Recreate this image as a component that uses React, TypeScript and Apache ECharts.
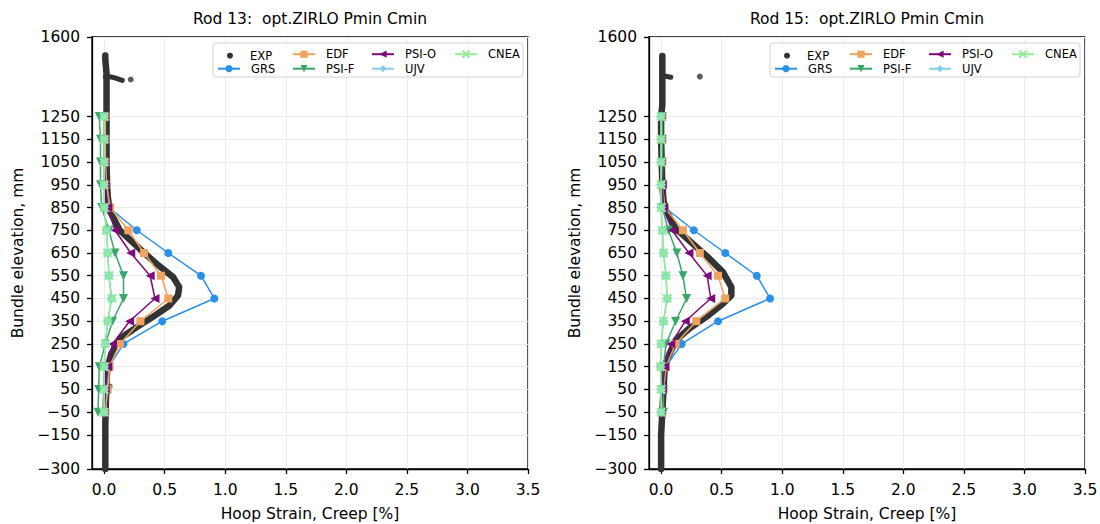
import React, { useEffect, useRef } from "react";
import * as echarts from "echarts";

// ---------- data ----------
const ELEV = [1250, 1150, 1050, 950, 850, 750, 650, 550, 450, 350, 250, 150, 50, -50];
const Y_TICKS = [-300, -150, -50, 50, 150, 250, 350, 450, 550, 650, 750, 850, 950, 1050, 1150, 1250, 1600];
const X_TICKS = [0, 0.5, 1, 1.5, 2, 2.5, 3, 3.5];
const TITLES = ["Rod 13:  opt.ZIRLO Pmin Cmin", "Rod 15:  opt.ZIRLO Pmin Cmin"];

// Rod 13
const GRS_13 = [0.01, 0.01, 0.01, 0.02, 0.04, 0.27, 0.53, 0.8, 0.91, 0.48, 0.16, 0.04, 0.02, 0.01];
const EDF_13 = [0.01, 0.01, 0.01, 0.02, 0.05, 0.2, 0.33, 0.47, 0.53, 0.3, 0.13, 0.045, 0.03, 0.01];
const PSIF_13 = [-0.04, -0.03, -0.03, -0.03, -0.02, 0.04, 0.09, 0.16, 0.16, 0.07, 0.01, -0.04, -0.045, -0.05];
const PSIO_13 = [0.0, 0.0, 0.0, 0.01, 0.03, 0.09, 0.22, 0.38, 0.42, 0.21, 0.07, 0.03, 0.01, 0.0];
const UJV_13 = [0.0, 0.0, 0.0, 0.0, 0.0, 0.02, 0.03, 0.04, 0.06, 0.03, 0.01, 0.0, 0.0, 0.0];
const CNEA_13 = [0.0, 0.0, 0.0, 0.0, 0.0, 0.02, 0.03, 0.04, 0.065, 0.03, 0.01, 0.0, 0.0, 0.0];
const EXP_13 = [
  [0.01, 1519], [0.01, 1500], [0.015, 1470], [0.02, 1440], [0.02, 1400], [0.02, 1350], [0.02, 1300],
  [0.02, 1250], [0.02, 1150], [0.02, 1050], [0.025, 950], [0.03, 900], [0.045, 837], [0.13, 749],
  [0.29, 670], [0.43, 604], [0.57, 544], [0.62, 500], [0.61, 463], [0.54, 419], [0.4, 368],
  [0.27, 324], [0.13, 274], [0.06, 208], [0.03, 150], [0.02, 100], [0.015, 0], [0.01, -100],
  [0.01, -200], [0.01, -300],
];
const EXP_13_BRANCH = [[0.01, 1425], [0.05, 1425], [0.09, 1420], [0.15, 1409]];
const EXP_13_DOTS = [[0.22, 1413], [0.045, 63]];

// Rod 15
const GRS_15 = [0.01, 0.01, 0.01, 0.01, 0.03, 0.27, 0.53, 0.79, 0.9, 0.47, 0.17, 0.04, 0.02, 0.01];
const EDF_15 = [0.01, 0.01, 0.01, 0.01, 0.03, 0.18, 0.32, 0.47, 0.53, 0.29, 0.12, 0.04, 0.02, 0.01];
const PSIF_15 = [0.01, 0.01, 0.01, 0.01, 0.01, 0.06, 0.13, 0.18, 0.21, 0.12, 0.04, 0.02, 0.02, 0.02];
const PSIO_15 = [0.0, 0.0, 0.0, 0.01, 0.02, 0.09, 0.23, 0.38, 0.41, 0.2, 0.08, 0.03, 0.01, 0.0];
const UJV_15 = [0.0, 0.0, 0.0, 0.0, 0.0, 0.01, 0.02, 0.04, 0.05, 0.02, 0.0, -0.005, 0.0, 0.0];
const CNEA_15 = [0.0, 0.0, 0.0, 0.0, 0.0, 0.01, 0.02, 0.04, 0.05, 0.02, 0.0, -0.005, 0.0, 0.0];
const EXP_15 = [
  [0.01, 1516], [0.01, 1480], [0.01, 1440], [0.01, 1400], [0.01, 1350], [0.01, 1300], [0.0, 1250],
  [0.0, 1150], [0.005, 1050], [0.01, 950], [0.02, 880], [0.04, 837], [0.12, 758], [0.26, 691],
  [0.4, 625], [0.51, 566], [0.58, 500], [0.58, 463], [0.51, 427], [0.37, 368], [0.23, 317],
  [0.12, 265], [0.07, 207], [0.03, 150], [0.02, 50], [0.01, -50], [0.0, -150], [0.0, -300],
];
const EXP_15_BRANCH = [[0.01, 1428], [0.05, 1426], [0.08, 1423]];
const EXP_15_DOTS = [[0.32, 1426]];

const PANELS = [
  { grs: GRS_13, edf: EDF_13, psif: PSIF_13, psio: PSIO_13, ujv: UJV_13, cnea: CNEA_13, exp: EXP_13, branch: EXP_13_BRANCH, dots: EXP_13_DOTS },
  { grs: GRS_15, edf: EDF_15, psif: PSIF_15, psio: PSIO_15, ujv: UJV_15, cnea: CNEA_15, exp: EXP_15, branch: EXP_15_BRANCH, dots: EXP_15_DOTS },
];

// ---------- style ----------
const FONT = "DejaVu Sans";
const C_EXP = "#333333";
const C_GRS = "#2a8fe8";
const C_EDF = "#f0a35e";
const C_PSIF = "#3aa66a";
const C_PSIO = "#7d0a7d";
const C_UJV = "#87ceeb";
const C_CNEA = "#90ee90";
const X_SYMBOL = "path://M0,0L10,10M10,0L0,10";

const GRID_LEFT = [92, 649];
const GRID_W = 436;
const GRID_TOP = 37;
const GRID_H = 432;

function fmtY(v: number) {
  return v < 0 ? "\u2212" + Math.abs(v) : String(v);
}

function App() {
  const ref = useRef<HTMLDivElement>(null);

  useEffect(() => {
    if (!ref.current) return;
    const chart = echarts.init(ref.current, undefined, { renderer: "svg" });

    const grids = GRID_LEFT.map((l) => ({
      left: l, top: GRID_TOP, width: GRID_W, height: GRID_H,
      containLabel: false, outerBoundsMode: "none",
      show: true, borderColor: "#000", borderWidth: 1.3, backgroundColor: "transparent",
    }));

    const textStyle = { color: "#000", fontSize: 15.5, fontFamily: FONT };

    const xAxes = [0, 1].map((i) => ({
      gridIndex: i, type: "value", min: -0.1, max: 3.5,
      axisLine: { show: true, onZero: false, lineStyle: { color: "#000", width: 1.3 } },
      axisTick: { show: true, length: 5, lineStyle: { color: "#000", width: 1.3 }, customValues: X_TICKS },
      axisLabel: { customValues: X_TICKS, formatter: (v: number) => v.toFixed(1), margin: 13, ...textStyle },
      splitLine: { show: true, lineStyle: { color: "#ebebeb", width: 1 } },
      name: "Hoop Strain, Creep [%]", nameLocation: "middle", nameGap: 37,
      nameTextStyle: textStyle,
    }));

    const yAxes = [0, 1].map((i) => ({
      gridIndex: i, type: "value", min: -300, max: 1600,
      axisLine: { show: true, onZero: false, lineStyle: { color: "#000", width: 1.3 } },
      axisTick: { show: true, length: 5, lineStyle: { color: "#000", width: 1.3 }, customValues: Y_TICKS },
      axisLabel: { customValues: Y_TICKS, formatter: (v: number) => fmtY(v), margin: 12, ...textStyle },
      splitLine: { show: true, lineStyle: { color: "#ebebeb", width: 1 } },
      name: "Bundle elevation, mm", nameLocation: "middle", nameGap: 66,
      nameTextStyle: textStyle,
    }));

    const series: any[] = [];
    PANELS.forEach((p, i) => {
      const ax = { xAxisIndex: i, yAxisIndex: i };
      series.push({
        type: "line", name: "EXP", ...ax, data: p.exp, symbol: "none", z: 2,
        lineStyle: { color: C_EXP, width: 6.5, cap: "round", join: "round" }, itemStyle: { color: C_EXP },
      });
      series.push({
        type: "line", name: "EXP", ...ax, data: p.branch, symbol: "none", z: 2,
        lineStyle: { color: C_EXP, width: 5, cap: "round", join: "round" }, itemStyle: { color: C_EXP },
      });
      series.push({
        type: "scatter", name: "EXP", ...ax, data: p.dots, symbol: "circle", symbolSize: 6, z: 2,
        itemStyle: { color: C_EXP },
      });
      const model = (name: string, xs: number[], color: string, symbol: string, size: number, extra: any = {}) => ({
        type: "line", name, ...ax, data: ELEV.map((e, k) => [xs[k], e]),
        symbol, symbolSize: size, showSymbol: true, z: 3,
        lineStyle: { color, width: 1.5 }, itemStyle: { color, borderWidth: 0 }, ...extra,
      });
      series.push(model("GRS", p.grs, C_GRS, "circle", 8));
      series.push(model("EDF", p.edf, C_EDF, "rect", 8));
      series.push(model("PSI-F", p.psif, C_PSIF, "triangle", 9, { symbolRotate: 180 }));
      series.push(model("PSI-O", p.psio, C_PSIO, "triangle", 9, { symbolRotate: 90 }));
      series.push(model("UJV", p.ujv, C_UJV, "diamond", 10));
      series.push(model("CNEA", p.cnea, C_CNEA, X_SYMBOL, 8, {
        itemStyle: { color: C_CNEA, borderColor: C_CNEA, borderWidth: 2.5 },
      }));
    });

    // legend items: [name, iconLeft, row]
    const LEG_ITEMS: [string, number, number][] = [
      ["EXP", 227, 0], ["GRS", 217, 1], ["EDF", 292, 0], ["PSI-F", 292, 1],
      ["PSI-O", 371, 0], ["UJV", 371, 1], ["CNEA", 454, 0],
    ];
    const legends: any[] = [];
    [0, 557].forEach((off) => {
      LEG_ITEMS.forEach(([name, left, row]) => {
        const isDot = name === "EXP";
        legends.push({
          left: left + off,
          top: isDot ? 49.7 + row * 14.5 : 48.2 + row * 14.5,
          padding: 0,
          itemWidth: isDot ? 6 : 22,
          itemHeight: isDot ? 6 : 9,
          selectedMode: false,
          data: [isDot ? { name, icon: "circle" } : { name }],
          textStyle: { color: "#000", fontSize: 11.5, fontFamily: FONT, padding: [0, 0, 0, isDot ? 12 : 6] },
          z: 5,
        });
      });
    });

    const graphics: any[] = [];
    [0, 557].forEach((off, i) => {
      graphics.push({
        type: "rect", z: 4, silent: true,
        shape: { x: 213 + off, y: 43, width: 310, height: 34, r: 3 },
        style: { fill: "rgba(255,255,255,0.85)", stroke: "#d3d3d3", lineWidth: 1 },
      });
      graphics.push({
        type: "text", z: 5,
        x: GRID_LEFT[i] + GRID_W / 2, y: 19,
        style: { text: TITLES[i], textAlign: "center", textVerticalAlign: "middle", fill: "#000", font: `15.5px "${FONT}"` },
      });
    });

    chart.setOption({
      animation: false,
      backgroundColor: "#fff",
      grid: grids,
      xAxis: xAxes,
      yAxis: yAxes,
      legend: legends,
      graphic: graphics,
      series,
    });

    return () => chart.dispose();
  }, []);

  return <div ref={ref} style={{ position: "absolute", left: 0, top: 0, width: 1100, height: 524 }} />;
}

export default App;
